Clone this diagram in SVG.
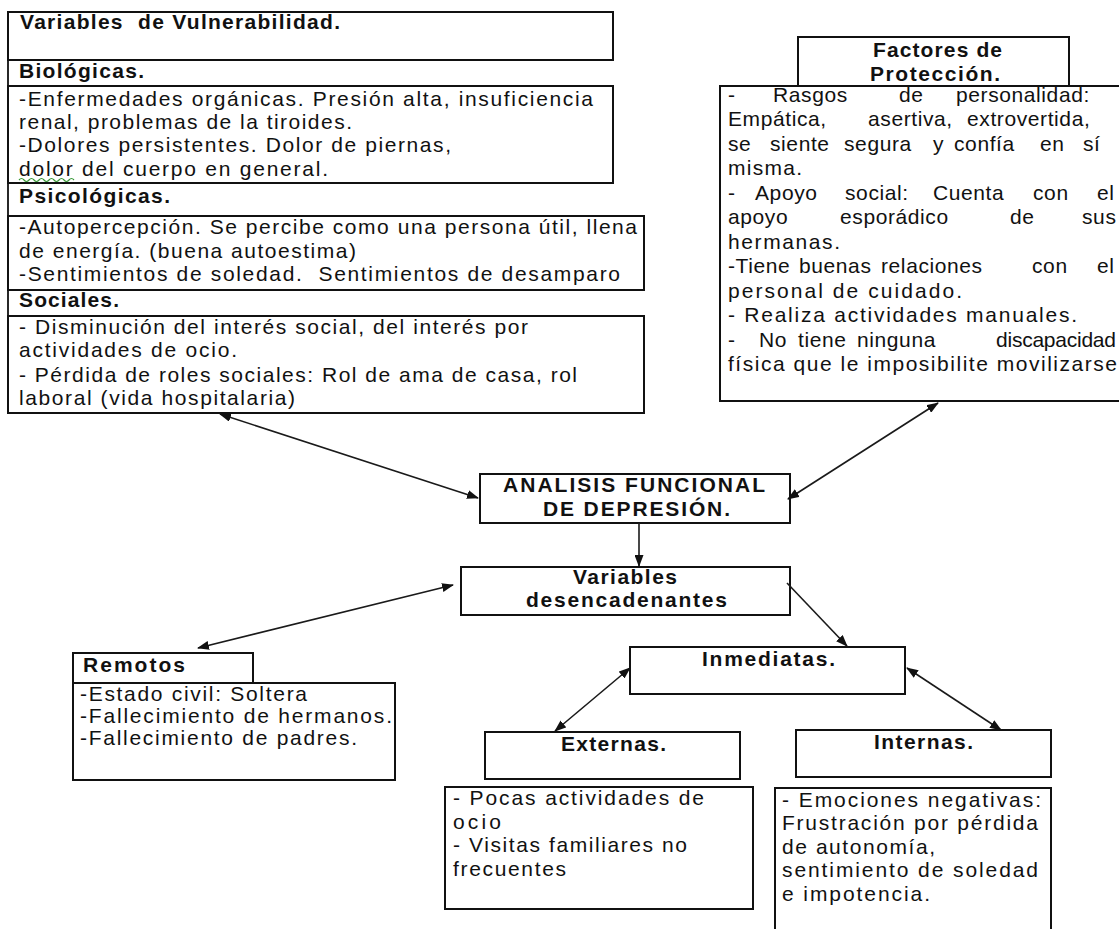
<svg xmlns="http://www.w3.org/2000/svg" width="1119" height="929" viewBox="0 0 1119 929">
<style>
text{font-family:"Liberation Sans",Arial,sans-serif;font-size:21px;fill:#111;white-space:pre}
.b{font-weight:bold}
.p{letter-spacing:0.6px}
.box{fill:#fff;stroke:#111;stroke-width:2}
.ln{fill:none;stroke:#111;stroke-width:1.8}
.c{stroke:#1a1a1a;stroke-width:1.6;fill:none;marker-end:url(#ah)}
.d{marker-start:url(#ah)}
</style>
<defs>
<marker id="ah" markerUnits="userSpaceOnUse" markerWidth="12" markerHeight="9" refX="11" refY="4.5" orient="auto-start-reverse">
<path d="M0,0 L12,4.5 L0,9 z" fill="#111"/>
</marker>
</defs>
<rect width="1119" height="929" fill="#fff"/>

<g id="vulnerabilidad">
<line class="ln" x1="8" y1="12" x2="8" y2="414"/>
<rect class="box" x="8" y="12" width="605" height="48"/>
<text class="b" x="20" y="29" textLength="320">Variables  de Vulnerabilidad.</text>
<text class="b" x="19" y="78" textLength="125">Biológicas.</text>
<rect class="box" x="8" y="86" width="605" height="97"/>
<text x="19" y="106" textLength="574">-Enfermedades orgánicas. Presión alta, insuficiencia</text>
<text x="19" y="129" textLength="333">renal, problemas de la tiroides.</text>
<text x="19" y="152" textLength="432">-Dolores persistentes. Dolor de piernas,</text>
<text x="19" y="176" textLength="309">dolor del cuerpo en general.</text>
<path d="M19,180 q2.5,-3 5,0 t5,0 t5,0 t5,0 t5,0 t5,0 t5,0 t5,0 t5,0 t5,0 t5,0" fill="none" stroke="#3a9a3a" stroke-width="1.2"/>
<text class="b" x="19" y="203" textLength="151">Psicológicas.</text>
<rect class="box" x="8" y="216" width="636" height="74"/>
<text x="19" y="234" textLength="618">-Autopercepción. Se percibe como una persona útil, llena</text>
<text x="19" y="258" textLength="337">de energía. (buena autoestima)</text>
<text x="19" y="281" textLength="601">-Sentimientos de soledad.  Sentimientos de desamparo</text>
<text class="b" x="19" y="307" textLength="100">Sociales.</text>
<rect class="box" x="8" y="316" width="636" height="97"/>
<text x="19" y="334" textLength="509">- Disminución del interés social, del interés por</text>
<text x="19" y="357" textLength="218">actividades de ocio.</text>
<text x="19" y="382" textLength="558">- Pérdida de roles sociales: Rol de ama de casa, rol</text>
<text x="19" y="405" textLength="276">laboral (vida hospitalaria)</text>
</g>

<g id="proteccion">
<rect class="box" x="798" y="37" width="271" height="49"/>
<text class="b" x="873" y="57" textLength="129">Factores de</text>
<text class="b" x="870" y="81" textLength="130">Protección.</text>
<rect class="box" x="720" y="86" width="402" height="315"/>
<text class="p" y="102"><tspan x="728">-</tspan><tspan x="773">Rasgos</tspan><tspan x="899">de</tspan><tspan x="956">personalidad:</tspan></text>
<text class="p" y="126"><tspan x="728">Empática,</tspan><tspan x="868">asertiva,</tspan><tspan x="967">extrovertida,</tspan></text>
<text class="p" y="151"><tspan x="728">se</tspan><tspan x="770">siente</tspan><tspan x="844">segura</tspan><tspan x="933">y</tspan><tspan x="954">confía</tspan><tspan x="1040">en</tspan><tspan x="1083">sí</tspan></text>
<text x="728" y="175" textLength="74">misma.</text>
<text class="p" y="200"><tspan x="728">-</tspan><tspan x="755">Apoyo</tspan><tspan x="845">social:</tspan><tspan x="933">Cuenta</tspan><tspan x="1033">con</tspan><tspan x="1097">el</tspan></text>
<text class="p" y="224"><tspan x="728">apoyo</tspan><tspan x="840">esporádico</tspan><tspan x="1010">de</tspan><tspan x="1082">sus</tspan></text>
<text x="728" y="249" textLength="112">hermanas.</text>
<text class="p" y="273"><tspan x="728">-Tiene</tspan><tspan x="799">buenas</tspan><tspan x="881">relaciones</tspan><tspan x="1032">con</tspan><tspan x="1097">el</tspan></text>
<text x="728" y="298" textLength="234">personal de cuidado.</text>
<text x="728" y="322" textLength="349">- Realiza actividades manuales.</text>
<text class="p" y="347"><tspan x="728">-</tspan><tspan x="759">No</tspan><tspan x="798">tiene</tspan><tspan x="857">ninguna</tspan></text>
<text x="996" y="347" textLength="120">discapacidad</text>
<text x="728" y="371" textLength="389">física que le imposibilite movilizarse</text>
</g>

<g id="analisis">
<rect class="box" x="480" y="474" width="310" height="49"/>
<text class="b" x="503" y="492" textLength="262">ANALISIS FUNCIONAL</text>
<text class="b" x="543" y="516" textLength="187">DE DEPRESIÓN.</text>
</g>

<g id="desencadenantes">
<rect class="box" x="461" y="567" width="329" height="48"/>
<text class="b" x="573" y="584" textLength="104">Variables</text>
<text class="b" x="526" y="607" textLength="201">desencadenantes</text>
</g>

<g id="remotos">
<rect class="box" x="73" y="653" width="180" height="30"/>
<text class="b" x="83" y="672" textLength="102">Remotos</text>
<rect class="box" x="73" y="683" width="322" height="97"/>
<text x="80" y="701" textLength="227">-Estado civil: Soltera</text>
<text x="80" y="723" textLength="312">-Fallecimiento de hermanos.</text>
<text x="80" y="745" textLength="277">-Fallecimiento de padres.</text>
</g>

<g id="inmediatas">
<rect class="box" x="630" y="647" width="275" height="47"/>
<text class="b" x="702" y="666" textLength="133">Inmediatas.</text>
</g>

<g id="externas">
<rect class="box" x="485" y="732" width="255" height="47"/>
<text class="b" x="561" y="751" textLength="105">Externas.</text>
<rect class="box" x="445" y="787" width="308" height="122"/>
<text x="453" y="805" textLength="251">- Pocas actividades de</text>
<text x="453" y="829" textLength="48">ocio</text>
<text x="453" y="852" textLength="234">- Visitas familiares no</text>
<text x="453" y="876" textLength="113">frecuentes</text>
</g>

<g id="internas">
<rect class="box" x="796" y="730" width="255" height="47"/>
<text class="b" x="874" y="749" textLength="99">Internas.</text>
<rect class="box" x="775" y="788" width="276" height="150"/>
<text x="782" y="807" textLength="259">- Emociones negativas:</text>
<text x="782" y="830" textLength="256">Frustración por pérdida</text>
<text x="782" y="854" textLength="153">de autonomía,</text>
<text x="782" y="877" textLength="256">sentimiento de soledad</text>
<text x="782" y="901" textLength="148">e impotencia.</text>
</g>

<g id="connectors">
<line class="c d" x1="220" y1="414" x2="478" y2="498"/>
<line class="c d" x1="938" y1="403" x2="788" y2="499"/>
<line class="c" x1="639" y1="523" x2="639" y2="566"/>
<line class="c d" x1="198" y1="648" x2="453" y2="585"/>
<line class="c" x1="787" y1="583" x2="847" y2="646"/>
<line class="c d" x1="555" y1="731" x2="630" y2="668"/>
<line class="c d" x1="1001" y1="730" x2="907" y2="668"/>
</g>
</svg>
